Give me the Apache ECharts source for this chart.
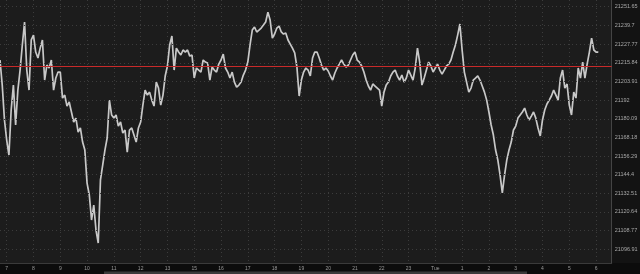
<!DOCTYPE html>
<html><head><meta charset="utf-8">
<script src="https://cdn.jsdelivr.net/npm/echarts@6/dist/echarts.min.js"></script>
<style>html,body{margin:0;padding:0;background:#0c0c0c;}#c{width:640px;height:274px;}</style>
</head><body><div id="c"></div>
<script>
// hour labels along the time axis (each hour = 12 five-minute points)
const hourLabels = ['7','8','9','10','11','12','13','15','16','17','18','19','20','21','22','23','Tue','1','2','3','4','5','6'];
const leadMinutes = ['45','50','55'];
const lastHourPoints = 8;
// price ticks on the right axis
const yTickLabels = ['21251.65','21239.7','21227.77','21215.84','21203.91','21192','21180.09','21168.18','21156.29','21144.4','21132.51','21120.64','21108.77','21096.91'];
const yMin = 21087.97, yMax = 21255.93;
const refPrice = 21213.8;
const lastPrice = 21222.6, lastPriceLabel = '21222';
// price series, 5-minute steps
const closeValues = [
21217.6,21201.6,21179.3,21166.5,21156.9,21185.7,21201.6,21176.1,21198.4,21211.2,21227.2,21241.9,
21211.2,21198.4,21230.4,21233.5,21222.7,21218.9,21225.2,21230.4,21204.8,21214.4,21212.5,21217.6,
21198.4,21206.1,21209.9,21209.9,21193.3,21195.2,21188.2,21190.8,21184.4,21178.0,21180.5,21171.6,
21174.2,21165.2,21160.1,21139.0,21131.4,21115.4,21125.0,21109.0,21100.7,21141.0,21150.5,21160.1,
21167.8,21192.0,21182.5,21180.5,21182.5,21175.4,21178.0,21171.0,21172.9,21158.8,21172.9,21174.2,
21169.7,21165.2,21174.2,21178.0,21188.8,21198.4,21195.2,21197.1,21192.0,21188.2,21203.5,21199.7,
21188.8,21195.2,21207.4,21213.8,21227.2,21232.9,21211.2,21225.2,21222.7,21220.8,21224.0,21222.7,
21224.0,21220.1,21220.8,21206.1,21212.5,21211.2,21209.9,21217.6,21216.3,21215.7,21204.8,21213.1,
21211.2,21209.9,21215.0,21217.6,21221.4,21212.5,21209.9,21206.1,21209.9,21203.5,21200.3,21201.6,
21203.5,21208.0,21211.2,21216.3,21227.2,21236.7,21238.7,21235.5,21236.7,21238.0,21239.9,21241.9,
21248.2,21243.1,21231.6,21234.2,21238.0,21239.3,21235.5,21234.2,21234.8,21230.4,21227.8,21225.2,
21222.1,21213.1,21194.6,21204.8,21209.9,21212.5,21211.2,21207.4,21218.9,21222.7,21222.7,21218.9,
21214.4,21211.2,21212.5,21210.6,21207.4,21204.8,21209.3,21212.5,21215.0,21217.6,21215.0,21213.1,
21214.4,21217.6,21220.8,21222.7,21217.6,21216.3,21213.8,21209.9,21204.8,21201.0,21198.4,21202.3,
21201.0,21199.7,21198.4,21188.2,21197.1,21201.6,21203.5,21207.4,21209.9,21211.2,21207.4,21204.8,
21208.0,21203.5,21206.1,21211.2,21208.0,21204.8,21212.5,21225.2,21216.3,21201.6,21206.1,21211.2,
21216.3,21213.8,21209.9,21212.5,21215.0,21211.2,21208.6,21211.2,21213.8,21215.0,21217.6,21222.7,
21227.2,21233.5,21240.6,21224.0,21209.9,21203.5,21197.1,21199.7,21204.8,21206.1,21207.4,21204.8,
21201.0,21197.1,21192.0,21184.4,21176.1,21169.7,21160.1,21153.7,21144.1,21132.7,21144.1,21153.7,
21160.1,21165.2,21172.9,21175.4,21180.5,21182.5,21184.4,21186.9,21182.5,21179.3,21181.8,21184.4,
21180.5,21174.2,21169.1,21179.3,21185.7,21189.5,21192.0,21194.6,21198.4,21195.2,21192.0,21206.1,
21211.2,21199.7,21202.3,21188.8,21182.5,21197.1,21193.3,21212.5,21206.1,21216.3,21206.1,21215.0,
21222.7,21231.6,21224.0,21222.7,21222.6
];

const pad = m => (m < 10 ? '0' : '') + m;
const categories = [];
leadMinutes.forEach(m => categories.push('pre:' + m));
hourLabels.forEach((h, k) => {
  const cnt = k === hourLabels.length - 1 ? lastHourPoints : 12;
  for (let j = 0; j < cnt; j++) categories.push(h + ':' + pad(j * 5));
});
const isHour = (i, v) => /:00$/.test(v);

const chart = echarts.init(document.getElementById('c'), null, {renderer: 'canvas'});
const gridLineStyle = {type: [1, 3], color: '#3c3c3c', width: 1};
chart.setOption({
  animation: false,
  backgroundColor: '#0c0c0c',
  grid: {left: 0, right: 28.3, top: 0, bottom: 11, show: true, backgroundColor: '#1c1c1c', borderWidth: 0},
  xAxis: {
    type: 'category', data: categories, boundaryGap: false,
    axisLine: {show: true, lineStyle: {color: '#3a3a3a', width: 1}},
    axisTick: {show: false},
    axisLabel: {interval: isHour, formatter: v => v.split(':')[0], color: '#9a9a9a', fontSize: 5, margin: 3, fontFamily: 'Liberation Sans'},
    splitLine: {show: true, interval: isHour, lineStyle: gridLineStyle}
  },
  yAxis: {
    type: 'value', position: 'right', min: yMin, max: yMax, scale: true,
    axisLine: {show: true, lineStyle: {color: '#444', width: 1}},
    axisTick: {show: false}, axisLabel: {show: false}, splitLine: {show: false}
  },
  series: [
    {
      type: 'line', data: [], z: 1, silent: true,
      markLine: {
        silent: true, symbol: ['none', 'none'], animation: false,
        lineStyle: gridLineStyle,
        label: {show: true, position: 'end', distance: 3, color: '#a8a8a8', fontSize: 5.5, fontFamily: 'Liberation Sans'},
        data: yTickLabels.map(t => ({yAxis: parseFloat(t), label: {formatter: t}}))
      }
    },
    {
      type: 'line', data: closeValues, z: 2, showSymbol: false, symbol: 'none', silent: true,
      lineStyle: {color: '#c8c8c8', width: 1.7}
    },
    {
      type: 'line', data: [], z: 3, silent: true,
      markLine: {
        silent: true, symbol: ['none', 'none'], animation: false,
        data: [
          {yAxis: refPrice, lineStyle: {color: '#c82a2a', width: 1, type: 'solid'}, label: {show: false}},
          {yAxis: lastPrice, lineStyle: {opacity: 0}, label: {show: true, position: 'end', distance: 3, formatter: lastPriceLabel,
            color: '#d0d0d0', fontSize: 5.5, fontFamily: 'Liberation Sans', backgroundColor: '#2a2a2a', borderColor: '#b0b0b0', borderWidth: 0.8, padding: [1, 3, 1, 3]}}
        ]
      }
    }
  ],
  graphic: [
    {type: 'rect', shape: {x: 612, y: 0, width: 28, height: 263}, style: {fill: '#131313'}, z: -1, silent: true},
    {type: 'rect', shape: {x: 104, y: 271.5, width: 423, height: 2.5}, style: {fill: '#3a3a3a'}, silent: true}
  ]
});
</script></body></html>
